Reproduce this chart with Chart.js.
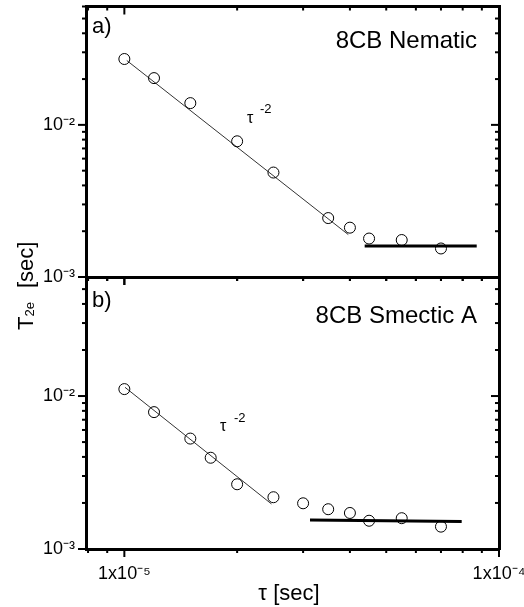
<!DOCTYPE html>
<html>
<head>
<meta charset="utf-8">
<script src="https://cdn.jsdelivr.net/npm/chart.js@4/dist/chart.umd.min.js"></script>
<style>
  html, body { margin: 0; padding: 0; background: #fff; }
  #wrap { position: relative; width: 524px; height: 607px; overflow: hidden; }
  canvas { position: absolute; left: 0; top: 0; }
</style>
</head>
<body>
<div id="wrap">
  <canvas id="panelA" width="524" height="607"></canvas>
  <canvas id="panelB" width="524" height="607"></canvas>
</div>
<script>
// panel a) 8CB nematic
const tauA = [1e-5, 1.2e-5, 1.5e-5, 2e-5, 2.5e-5, 3.5e-5, 4e-5, 4.5e-5, 5.5e-5, 7e-5];
const t2eA = [0.0271, 0.0203, 0.0139, 0.0078, 0.00486, 0.00244, 0.00211, 0.00179, 0.00175, 0.00154];
const fitTauA = [1.015e-5, 3.96e-5];
const fitT2eA = [0.0265, 0.0019];
const flatTauA = [4.38e-5, 8.72e-5];
const flatT2eA = [0.0016, 0.0016];

// panel b) 8CB smectic A
const tauB = [1e-5, 1.2e-5, 1.5e-5, 1.7e-5, 2e-5, 2.5e-5, 3e-5, 3.5e-5, 4e-5, 4.5e-5, 5.5e-5, 7e-5];
const t2eB = [0.0111, 0.00785, 0.00527, 0.00395, 0.00265, 0.00218, 0.00199, 0.00182, 0.00172, 0.00153, 0.00159, 0.0014];
const fitTauB = [1.004e-5, 2.47e-5];
const fitT2eB = [0.0114, 0.00197];
const flatTauB = [3.13e-5, 7.95e-5];
const flatT2eB = [0.00155, 0.00151];

// axes
const xTicks = [8e-6, 9e-6, 1e-5, 2e-5, 3e-5, 4e-5, 5e-5, 6e-5, 7e-5, 8e-5, 9e-5, 1e-4];
const xLabels = ['', '', '1x10\u207B\u2075', '', '', '', '', '', '', '', '', '1x10\u207B\u2074'];
const yTicks = [1e-3, 2e-3, 3e-3, 4e-3, 5e-3, 6e-3, 7e-3, 8e-3, 9e-3, 1e-2, 2e-2, 3e-2, 4e-2, 5e-2, 6e-2];
const yLabels = ['10\u207B\u00B3', '', '', '', '', '', '', '', '', '10\u207B\u00B2', '', '', '', '', ''];
const X_MIN = 7.9e-6, X_MAX = 1e-4, Y_MIN = 1e-3, Y_MAX = 0.06;

const FONT = "'Liberation Sans', Arial, Helvetica, sans-serif";
Chart.defaults.font.family = FONT;
Chart.defaults.color = '#000';

const pts = (xs, ys) => xs.map((x, i) => ({ x, y: ys[i] }));

function axis(position, ticks, labels, size, show, pad) {
  const horiz = position === 'top' || position === 'bottom';
  return {
    type: 'logarithmic',
    position,
    min: horiz ? X_MIN : Y_MIN,
    max: horiz ? X_MAX : Y_MAX,
    border: { display: true, width: 3, color: '#000' },
    grid: { display: true, drawOnChartArea: false, drawTicks: false },
    afterBuildTicks: (s) => { s.ticks = ticks.map((v, i) => ({ value: v, major: labels[i] !== '' })); },
    ticks: {
      display: show, autoSkip: false, maxRotation: 0, minRotation: 0, padding: pad,
      font: { size: 18 }, color: '#000',
      callback: (v, i) => labels[i],
    },
    afterFit: (s) => {
      if (horiz) s.height = size; else s.width = size;
      s.paddingLeft = s.paddingRight = s.paddingTop = s.paddingBottom = 0;
    },
  };
}

// tick marks: x ticks point down, y ticks point left, major ones longer
const tickMarks = {
  id: 'tickMarks',
  afterDraw(chart) {
    const ctx = chart.ctx;
    ctx.save();
    ctx.strokeStyle = '#000';
    ctx.lineWidth = 2;
    Object.values(chart.scales).forEach((s) => {
      s.ticks.forEach((t) => {
        const p = s.getPixelForValue(t.value);
        const len = t.major ? 8 : 4;
        ctx.beginPath();
        if (s.isHorizontal()) {
          const y0 = s.position === 'top' ? s.bottom : s.top;
          ctx.moveTo(p, y0); ctx.lineTo(p, y0 + len);
        } else {
          const x0 = s.position === 'left' ? s.right : s.left;
          ctx.moveTo(x0, p); ctx.lineTo(x0 - len, p);
        }
        ctx.stroke();
      });
    });
    ctx.restore();
  },
};

function text(ctx, str, x, y, size, align) {
  ctx.font = `${size}px ${FONT}`;
  ctx.textAlign = align || 'left';
  ctx.textBaseline = 'alphabetic';
  ctx.fillText(str, x, y);
}

function labelsPlugin(draw) {
  return {
    id: 'panelText',
    afterDraw(chart) {
      const ctx = chart.ctx;
      ctx.save();
      ctx.fillStyle = '#000';
      draw(ctx);
      ctx.restore();
    },
  };
}

function datasets(tau, t2e, fitTau, fitT2e, flatTau, flatT2e) {
  return [
    {
      data: pts(tau, t2e), showLine: false,
      pointStyle: 'circle', pointRadius: 5.5, pointBorderWidth: 1,
      pointBorderColor: '#000', pointBackgroundColor: 'rgba(0,0,0,0)',
    },
    { data: pts(fitTau, fitT2e), showLine: true, borderColor: '#333', borderWidth: 1, pointRadius: 0 },
    { data: pts(flatTau, flatT2e), showLine: true, borderColor: '#000', borderWidth: 3, pointRadius: 0 },
  ];
}

function panel(id, ds, sizes, showX, draw) {
  return new Chart(document.getElementById(id), {
    type: 'scatter',
    data: { datasets: ds },
    options: {
      responsive: false,
      animation: false,
      events: [],
      layout: { padding: 0 },
      plugins: { legend: { display: false }, tooltip: { enabled: false } },
      scales: {
        x: axis('bottom', xTicks, xLabels, sizes.bottom, showX, 14),
        x2: axis('top', xTicks, xLabels, sizes.top, false, 0),
        y: axis('left', yTicks, yLabels, 86, true, 11),
        y2: axis('right', yTicks, yLabels, 25, false, 0),
      },
    },
    plugins: [tickMarks, labelsPlugin(draw)],
  });
}

panel('panelA', datasets(tauA, t2eA, fitTauA, fitT2eA, flatTauA, flatT2eA),
  { top: 5, bottom: 330 }, false, (ctx) => {
    text(ctx, 'a)', 92, 33, 22);
    text(ctx, '8CB Nematic', 477, 48, 24, 'right');
    text(ctx, '\u03C4', 247, 123, 16);
    text(ctx, '-2', 260, 113, 13);
  });

panel('panelB', datasets(tauB, t2eB, fitTauB, fitT2eB, flatTauB, flatT2eB),
  { top: 277, bottom: 58 }, true, (ctx) => {
    text(ctx, 'b)', 92, 307, 22);
    text(ctx, '8CB Smectic A', 477, 323, 24, 'right');
    text(ctx, '\u03C4', 220, 431, 16);
    text(ctx, '-2', 234, 422, 13);
    // x axis title
    text(ctx, '\u03C4 [sec]', 289, 600, 22, 'center');
    // y axis title, spans both panels
    ctx.translate(33, 330);
    ctx.rotate(-Math.PI / 2);
    text(ctx, 'T', 0, 0, 22);
    ctx.font = `22px ${FONT}`;
    const w = ctx.measureText('T').width;
    text(ctx, '2e', w, 1, 13);
    text(ctx, '[sec]', 42, 0, 22);
  });
</script>
</body>
</html>
